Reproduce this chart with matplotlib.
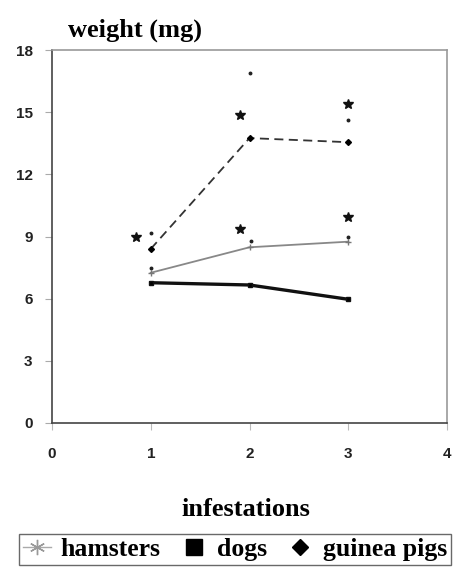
import matplotlib
matplotlib.use("Agg")
import matplotlib.pyplot as plt
from matplotlib.lines import Line2D

infestations = [1, 2, 3]
hamsters = [7.25, 8.48, 8.75]
dogs = [6.77, 6.66, 5.97]
guinea_pigs = [8.4, 13.75, 13.55]

# significance stars and small error-end dots
star_x = [0.85, 1.9, 3.0, 1.9, 3.0]
star_y = [9.0, 9.35, 9.95, 14.85, 15.4]
dot_x = [1.0, 1.0, 2.02, 3.0, 2.0, 3.0]
dot_y = [9.15, 7.5, 8.8, 9.0, 16.9, 14.6]

x_ticks = [0, 1, 2, 3, 4]
y_ticks = [0, 3, 6, 9, 12, 15, 18]

fig = plt.figure(figsize=(4.55, 5.74), dpi=100)
ax = fig.add_axes([52/455, 1-423/574, 395/455, 373/574])

ax.plot(infestations, guinea_pigs, color='#333333', lw=1.3, ls=(0, (5, 3)),
        marker='D', ms=3, mfc='black', mec='black')
ax.plot(infestations, hamsters, color='#888888', lw=1.3, marker='+', ms=4, mec='#777777')
ax.plot(infestations, dogs, color='#111111', lw=2.4, marker='s', ms=3, mfc='black')
ax.plot(star_x, star_y, ls='none', marker='*', ms=7, color='#111111')
ax.plot(dot_x, dot_y, ls='none', marker='o', ms=1.8, color='#222222')

ax.set_xlim(0, 4)
ax.set_ylim(0, 18)
ax.set_xticks(x_ticks)
ax.set_yticks(y_ticks)
tick_font = dict(family='Liberation Sans', weight='bold', size=11)
ax.set_xticklabels([str(t) for t in x_ticks], fontdict=tick_font, color='#222222')
ax.set_yticklabels([str(t) for t in y_ticks], fontdict=tick_font, color='#222222')
ax.tick_params(axis='x', length=5, color='#bbbbbb', pad=12)
ax.tick_params(axis='y', length=5, color='#aaaaaa', pad=9)
for s in ['left', 'bottom']:
    ax.spines[s].set_color('#444444')
    ax.spines[s].set_linewidth(1.2)
for s in ['top', 'right']:
    ax.spines[s].set_color('#999999')
    ax.spines[s].set_linewidth(1.2)

serif = dict(family='Liberation Serif', weight='bold')
fig.text(135/455, 1-30/574, 'weight (mg)', ha='center', va='center', fontsize=19, **serif)
fig.text(246/455, 1-509/574, 'infestations', ha='center', va='center', fontsize=19, **serif)

handles = [
    Line2D([], [], color='#aaaaaa', lw=1, marker=(6, 2, 0), ms=11, mec='#999999'),
    Line2D([], [], color='black', lw=0, marker='s', ms=11),
    Line2D([], [], color='black', lw=0, marker='D', ms=8),
]
leg = fig.legend(handles, ['hamsters', 'dogs', 'guinea pigs'], loc='upper left',
                 bbox_to_anchor=(19/455, 1-534/574), ncol=3, frameon=True,
                 prop=dict(family='Liberation Serif', weight='bold', size=18.5),
                 handlelength=1.1, handletextpad=0.35, columnspacing=0.75,
                 fancybox=False, edgecolor='#444444', borderpad=0.15,
                 borderaxespad=0)
leg.get_frame().set_linewidth(1.0)

fig.savefig('out.png', dpi=100)
